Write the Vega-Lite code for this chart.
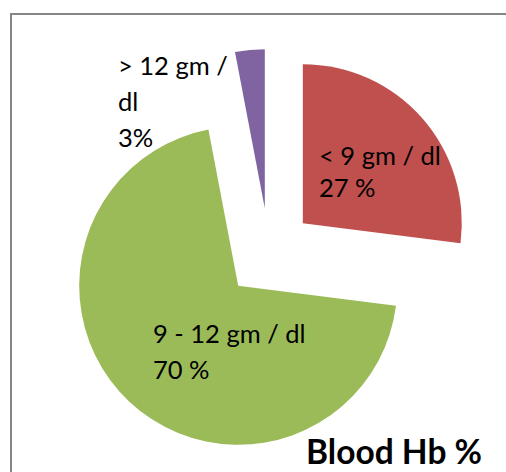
{
  "$schema": "https://vega.github.io/schema/vega-lite/v6.json",
  "width": 516,
  "height": 478,
  "autosize": "none",
  "padding": {"left": 11, "top": 14, "right": -21, "bottom": -20},
  "background": "white",
  "view": {"stroke": "#868686", "strokeWidth": 2, "fill": "white"},
  "title": {
    "text": "Blood Hb %",
    "orient": "bottom",
    "anchor": "end",
    "font": "Lato",
    "fontSize": 33.5,
    "fontWeight": "bold",
    "color": "black",
    "baseline": "alphabetic",
    "offset": -28,
    "dx": -45
  },
  "data": {
    "values": [
      {"category": "< 9 gm / dl", "value": 27, "order": 1, "label": "< 9 gm / dl\n27 %"},
      {"category": "9 - 12 gm / dl", "value": 70, "order": 2, "label": "9 - 12 gm / dl\n70 %"},
      {"category": "> 12 gm / dl", "value": 3, "order": 3, "label": "> 12 gm /\ndl\n3%"}
    ]
  },
  "transform": [
    {"stack": "value", "groupby": [], "sort": [{"field": "order", "order": "ascending"}], "as": ["t0", "t1"]}
  ],
  "encoding": {
    "color": {
      "field": "category",
      "type": "nominal",
      "scale": {
        "domain": ["< 9 gm / dl", "9 - 12 gm / dl", "> 12 gm / dl"],
        "range": ["#C0504D", "#9BBB59", "#8064A2"]
      },
      "legend": null
    }
  },
  "layer": [
    {
      "transform": [{"filter": {"field": "order", "equal": 1}}],
      "mark": {"type": "arc", "radius": 159, "xOffset": 33.8, "yOffset": -29.8},
      "encoding": {
        "theta": {"field": "t0", "type": "quantitative", "scale": {"domain": [0, 100]}},
        "theta2": {"field": "t1"}
      }
    },
    {
      "transform": [{"filter": {"field": "order", "equal": 2}}],
      "mark": {"type": "arc", "radius": 159, "xOffset": -30.8, "yOffset": 32.8},
      "encoding": {
        "theta": {"field": "t0", "type": "quantitative"},
        "theta2": {"field": "t1"}
      }
    },
    {
      "transform": [{"filter": {"field": "order", "equal": 3}}],
      "mark": {"type": "arc", "radius": 159, "xOffset": -4.2, "yOffset": -44.8},
      "encoding": {
        "theta": {"field": "t0", "type": "quantitative"},
        "theta2": {"field": "t1"}
      }
    },
    {
      "transform": [{"filter": {"field": "order", "equal": 1}}],
      "mark": {"type": "text", "align": "left", "baseline": "alphabetic", "dx": 50, "dy": -88, "lineBreak": "\n", "lineHeight": 32, "font": "Lato", "fontSize": 25.5, "color": "black"},
      "encoding": {"text": {"field": "label"}, "color": {"value": "black"}}
    },
    {
      "transform": [{"filter": {"field": "order", "equal": 2}}],
      "mark": {"type": "text", "align": "left", "baseline": "alphabetic", "dx": -116, "dy": 90, "lineBreak": "\n", "lineHeight": 36, "font": "Lato", "fontSize": 25.5, "color": "black"},
      "encoding": {"text": {"field": "label"}, "color": {"value": "black"}}
    },
    {
      "transform": [{"filter": {"field": "order", "equal": 3}}],
      "mark": {"type": "text", "align": "left", "baseline": "alphabetic", "dx": -151, "dy": -178, "lineBreak": "\n", "lineHeight": 36, "font": "Lato", "fontSize": 25.5, "color": "black"},
      "encoding": {"text": {"field": "label"}, "color": {"value": "black"}}
    }
  ]
}
